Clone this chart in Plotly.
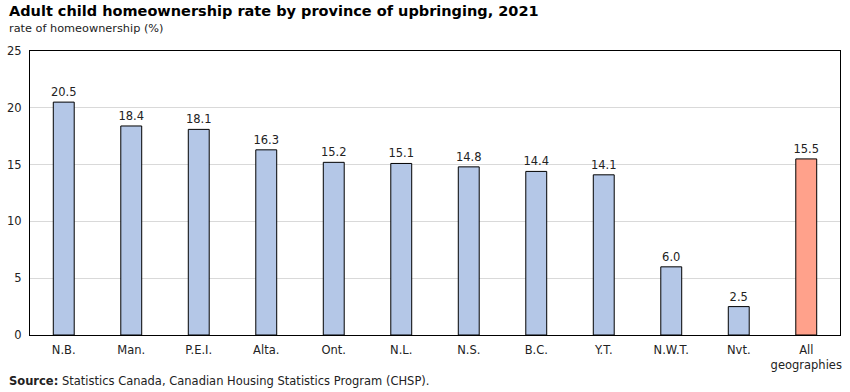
import plotly.graph_objects as go

categories = ["N.B.", "Man.", "P.E.I.", "Alta.", "Ont.", "N.L.", "N.S.", "B.C.", "Y.T.", "N.W.T.", "Nvt.", "All<br>geographies"]
values = [20.5, 18.4, 18.1, 16.3, 15.2, 15.1, 14.8, 14.4, 14.1, 6.0, 2.5, 15.5]
colors = ["#b4c7e7"] * 11 + ["#ffa18b"]
y_ticks = [0, 5, 10, 15, 20, 25]

FONT = "Verdana, DejaVu Sans, sans-serif"
W, H = 850, 392
ML, MR, MT, MB = 30, 10, 51, 57
PW, PH = W - ML - MR, H - MT - MB


def px(x):
    return (x - ML) / PW


def py(y_from_top):
    return (H - y_from_top - MB) / PH


fig = go.Figure(go.Bar(
    x=categories, y=values,
    marker=dict(color=colors, line=dict(color="black", width=1)),
    width=0.31,
    text=[f"{v:.1f}" for v in values],
    textposition="outside",
    constraintext="none",
    textfont=dict(family=FONT, size=11.5, color="#222222"),
    cliponaxis=False,
))

fig.update_layout(
    width=W, height=H,
    margin=dict(l=ML, r=MR, t=MT, b=MB, autoexpand=False),
    plot_bgcolor="white", paper_bgcolor="white",
    font=dict(family=FONT, size=11.5, color="#222222"),
    showlegend=False,
    xaxis=dict(showline=True, linecolor="black", linewidth=1, mirror=True,
               ticks="", automargin=False, ticklabelstandoff=4),
    yaxis=dict(range=[0, 25], tickvals=y_ticks, showgrid=True, gridcolor="#d9d9d9",
               showline=True, linecolor="black", linewidth=1, mirror=True,
               ticks="", zeroline=False, automargin=False, ticklabelstandoff=5),
    annotations=[
        dict(text="<b>Adult child homeownership rate by province of upbringing, 2021</b>",
             x=px(7), y=py(11), xref="paper", yref="paper", showarrow=False,
             xanchor="left", yanchor="middle", font=dict(size=14.5, color="#000000")),
        dict(text="rate of homeownership (%)",
             x=px(7), y=py(28), xref="paper", yref="paper", showarrow=False,
             xanchor="left", yanchor="middle", font=dict(size=11.3)),
        dict(text="<b>Source:</b> Statistics Canada, Canadian Housing Statistics Program (CHSP).",
             x=px(7), y=py(381), xref="paper", yref="paper", showarrow=False,
             xanchor="left", yanchor="middle", font=dict(size=11.5)),
    ],
)

fig.write_html("out.html", config={"displayModeBar": False},
               post_script="document.body.style.margin='0';document.body.style.padding='0';")
